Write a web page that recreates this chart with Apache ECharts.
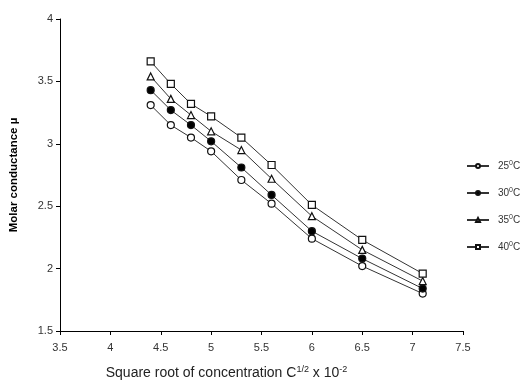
<!DOCTYPE html>
<html>
<head>
<meta charset="utf-8">
<script src="https://cdn.jsdelivr.net/npm/echarts@6/dist/echarts.min.js"></script>
<style>
  html, body { margin: 0; padding: 0; background: #fff; }
  #chart { width: 522px; height: 381px; }
</style>
</head>
<body>
<div id="chart"></div>
<script>
var conc = [4.4, 4.6, 4.8, 5.0, 5.3, 5.6, 6.0, 6.5, 7.1];
var t25 = [3.31, 3.15, 3.05, 2.94, 2.71, 2.52, 2.24, 2.02, 1.80];
var t30 = [3.43, 3.27, 3.15, 3.02, 2.81, 2.59, 2.30, 2.08, 1.84];
var t35 = [3.54, 3.36, 3.23, 3.10, 2.95, 2.72, 2.42, 2.15, 1.90];
var t40 = [3.66, 3.48, 3.32, 3.22, 3.05, 2.83, 2.51, 2.23, 1.96];
var temps = ['25', '30', '35', '40'];

var myChart = echarts.init(document.getElementById('chart'));

function pairs(ys) {
    return conc.map(function (x, i) { return [x, ys[i]]; });
}

function mk(name, ys, symbol, fill) {
    return {
        name: name,
        type: 'line',
        data: pairs(ys),
        symbol: symbol,
        symbolSize: 7,
        showAllSymbol: true,
        lineStyle: { color: '#333', width: 1 },
        itemStyle: { color: fill, borderColor: '#111', borderWidth: 1.2 }
    };
}

var sup = { fontSize: 7, verticalAlign: 'top', padding: [0, 0, 5, 0], color: '#333', fontFamily: 'Liberation Sans' };

var option = {
    animation: false,
    grid: { left: 60, right: 59, top: 19, bottom: 50, outerBoundsMode: 'none' },
    legend: {
        orient: 'vertical',
        left: 466,
        top: 160,
        padding: 0,
        itemWidth: 22,
        itemHeight: 5,
        itemGap: 16,
        data: temps,
        formatter: function (n) { return n + '{s|0}C'; },
        textStyle: {
            fontSize: 10,
            color: '#333',
            fontFamily: 'Liberation Sans',
            padding: [0, 0, 0, 4],
            rich: { s: sup }
        }
    },
    xAxis: {
        type: 'value',
        min: 3.5,
        max: 7.5,
        interval: 0.5,
        name: 'Square root of concentration C{s|1/2} x 10{s|-2}',
        nameLocation: 'middle',
        nameGap: 34,
        nameTextStyle: {
            fontSize: 14,
            color: '#222',
            fontFamily: 'Liberation Sans',
            padding: [0, 70, 0, 0],
            rich: { s: { fontSize: 9, verticalAlign: 'top', padding: [0, 0, 7, 0], color: '#222', fontFamily: 'Liberation Sans' } }
        },
        axisLine: { lineStyle: { color: '#000', width: 1 } },
        axisTick: { show: true, length: 4, lineStyle: { color: '#000' } },
        axisLabel: { fontSize: 11, color: '#333', fontFamily: 'Liberation Sans', margin: 11 },
        splitLine: { show: false }
    },
    yAxis: {
        type: 'value',
        min: 1.5,
        max: 4,
        interval: 0.5,
        name: 'Molar conductance µ',
        nameLocation: 'middle',
        nameGap: 40,
        nameTextStyle: { fontSize: 11.5, fontWeight: 'bold', color: '#000', fontFamily: 'Liberation Sans' },
        axisLine: { show: true, lineStyle: { color: '#000', width: 1 } },
        axisTick: { show: true, length: 4, lineStyle: { color: '#000' } },
        axisLabel: { fontSize: 11, color: '#333', fontFamily: 'Liberation Sans', margin: 7 },
        splitLine: { show: false }
    },
    series: [
        mk('25', t25, 'circle', '#fff'),
        mk('30', t30, 'circle', '#000'),
        mk('35', t35, 'triangle', '#fff'),
        mk('40', t40, 'rect', '#fff')
    ]
};
myChart.setOption(option);
</script>
</body>
</html>
